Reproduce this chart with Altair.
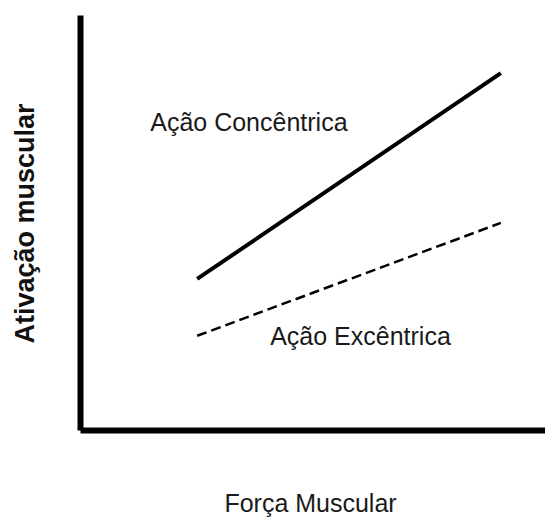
import altair as alt
import pandas as pd

# Data (conceptual: force vs activation)
series = ["Ação Concêntrica", "Ação Concêntrica", "Ação Excêntrica", "Ação Excêntrica"]
forca = [25.2, 90.5, 25.2, 90.5]
ativacao = [36.4, 86.0, 22.7, 49.9]

label_text = ["Ação Concêntrica", "Ação Excêntrica"]
label_x = [15.1, 40.9]
label_y = [72.0, 20.5]

df = pd.DataFrame({"serie": series, "forca": forca, "ativacao": ativacao})
lab = pd.DataFrame({"texto": label_text, "x": label_x, "y": label_y})

FONT = "Liberation Sans"

xscale = alt.Scale(domain=[0, 100], nice=False, zero=False)
yscale = alt.Scale(domain=[0, 100], nice=False, zero=False)

xaxis = alt.Axis(
    title="Força Muscular", domain=True, domainColor="#000", domainWidth=6,
    ticks=False, labels=False, grid=False, titleFont=FONT, titleFontSize=25,
    titleFontWeight="normal", titleColor="#1a1a1a", titleBaseline="alphabetic",
    titleY=81, titleX=230, titleAlign="center",
)
yaxis = alt.Axis(
    title="Ativação muscular", domain=True, domainColor="#000", domainWidth=6,
    ticks=False, labels=False, grid=False, titleFont=FONT, titleFontSize=27,
    titleFontWeight="bold", titleColor="#111", titleBaseline="alphabetic",
    titleX=-47, titleY=208, titleAlign="center", titleAngle=270,
)

conc = alt.Chart(df).transform_filter(alt.datum.serie == "Ação Concêntrica").mark_line(
    color="#000", strokeWidth=4, strokeCap="butt"
).encode(
    x=alt.X("forca:Q", scale=xscale, axis=xaxis),
    y=alt.Y("ativacao:Q", scale=yscale, axis=yaxis),
)

exc = alt.Chart(df).transform_filter(alt.datum.serie == "Ação Excêntrica").mark_line(
    color="#000", strokeWidth=2.5, strokeDash=[10, 5], strokeCap="butt"
).encode(
    x=alt.X("forca:Q", scale=xscale),
    y=alt.Y("ativacao:Q", scale=yscale),
)

text = alt.Chart(lab).mark_text(
    align="left", baseline="alphabetic", font=FONT, fontSize=25, color="#1a1a1a"
).encode(
    x=alt.X("x:Q", scale=xscale),
    y=alt.Y("y:Q", scale=yscale),
    text="texto:N",
)

chart = alt.layer(conc, exc, text).properties(
    width=465, height=415,
    padding={"left": 80, "top": 15, "right": 0, "bottom": 88},
    autosize=alt.AutoSizeParams(type="none"),
    background="white",
).configure_view(stroke=None)

chart.save("out.html", embed_options={"renderer": "svg", "actions": False})
